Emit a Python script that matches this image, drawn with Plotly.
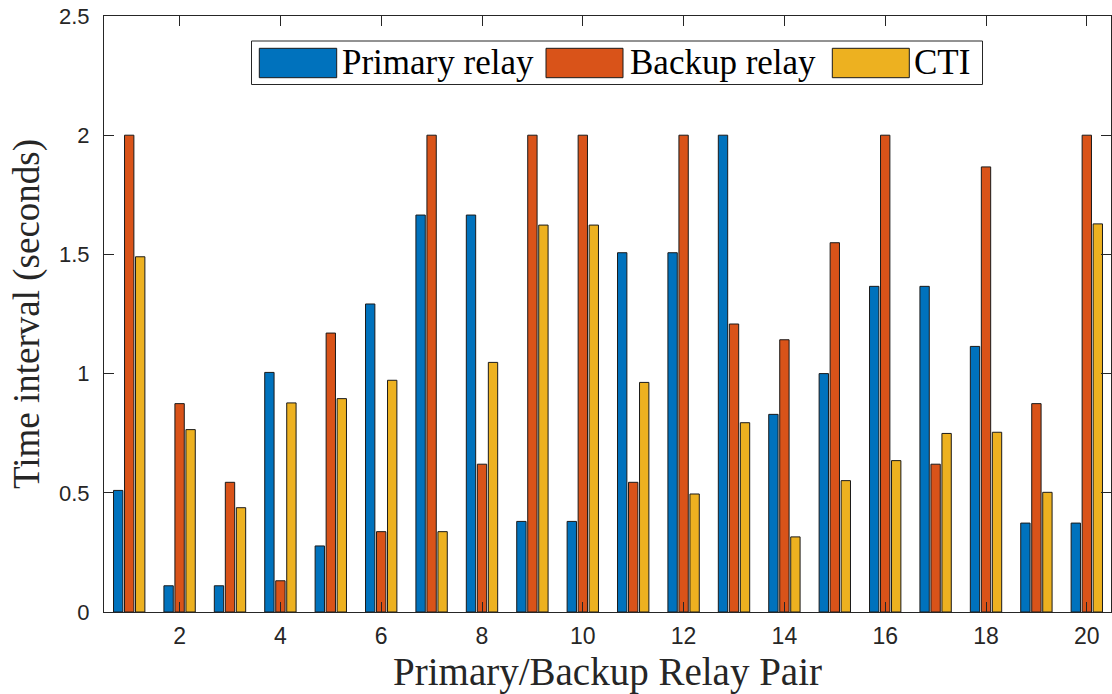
import plotly.graph_objects as go

# ---- data ----
pairs = list(range(1, 21))
primary_relay = [0.51, 0.11, 0.11, 1.005, 0.277, 1.292, 1.665, 1.665, 0.38, 0.38,
                 1.507, 1.507, 2.0, 0.829, 1.0, 1.366, 1.366, 1.114, 0.373, 0.373]
backup_relay = [2.0, 0.874, 0.544, 0.131, 1.17, 0.337, 2.0, 0.62, 2.0, 2.0,
                0.544, 2.0, 1.208, 1.142, 1.549, 2.0, 0.62, 1.867, 0.874, 2.0]
cti = [1.49, 0.765, 0.4375, 0.877, 0.895, 0.972, 0.337, 1.047, 1.623, 1.623,
       0.963, 0.495, 0.794, 0.315, 0.551, 0.635, 0.749, 0.754, 0.502, 1.628]
series_names = ["Primary relay", "Backup relay", "CTI"]
x_tick_vals = [2, 4, 6, 8, 10, 12, 14, 16, 18, 20]
y_tick_vals = [0, 0.5, 1, 1.5, 2, 2.5]

colors = ["#0072BD", "#D95319", "#EDB120"]

W, H = 1112, 694
L, R, T, B = 104, 1111, 16, 612  # plot area in pixels

fig = go.Figure()
for name, vals, col in zip(series_names, [primary_relay, backup_relay, cti], colors):
    fig.add_trace(go.Bar(x=pairs, y=vals, name=name, marker=dict(color=col, line=dict(color="#1a1a1a", width=1)),
                         showlegend=False))

axis_common = dict(showline=True, linecolor="#262626", linewidth=1, mirror="ticks",
                   ticks="inside", ticklen=10, tickcolor="#262626", showgrid=False, zeroline=False)

fig.update_layout(
    width=W, height=H,
    margin=dict(l=L, r=W - R, t=T, b=H - B, pad=0),
    paper_bgcolor="white", plot_bgcolor="white",
    barmode="group", bargap=0.345, bargroupgap=0.15,
    xaxis=dict(range=[0.5, 20.48], tickmode="array", tickvals=x_tick_vals,
               ticklabelstandoff=3,
               tickfont=dict(family="Liberation Sans, Arial", size=23, color="#262626"),
               title=dict(text="Primary/Backup Relay Pair", standoff=10,
                          font=dict(family="Liberation Serif, Times New Roman", size=39, color="#262626")),
               **axis_common),
    yaxis=dict(range=[0, 2.5], tickmode="array", tickvals=y_tick_vals,
               ticklabelstandoff=9,
               tickfont=dict(family="Liberation Sans, Arial", size=22, color="#262626"),
               title=dict(text="Time interval (seconds)", standoff=8,
                          font=dict(family="Liberation Serif, Times New Roman", size=37, color="#262626")),
               **axis_common),
    showlegend=False,
)

# ---- legend drawn in the MATLAB style (large swatches) ----
def xp(px):
    return (px - L) / (R - L)

def yp(py):
    return (B - py) / (B - T)

shapes = [dict(type="rect", xref="paper", yref="paper", x0=xp(251.5), x1=xp(982.5), y0=yp(84.5), y1=yp(41),
               line=dict(color="#262626", width=1), fillcolor="white", layer="above")]
swatches = [(259.3, 336.7), (546, 623), (832.3, 909.3)]
text_x = [340, 628, 912]
annotations = []
for (s0, s1), tx, col, name in zip(swatches, text_x, colors, series_names):
    shapes.append(dict(type="rect", xref="paper", yref="paper", x0=xp(s0), x1=xp(s1), y0=yp(77.7), y1=yp(48.3),
                       line=dict(color="#1a1a1a", width=1), fillcolor=col, layer="above"))
    annotations.append(dict(text=name, xref="paper", yref="paper", x=xp(tx), y=yp(63), xanchor="left",
                            yanchor="middle", showarrow=False,
                            font=dict(family="Liberation Serif, Times New Roman", size=35, color="black")))
fig.update_layout(shapes=shapes, annotations=annotations)

fig.write_html("out.html")
